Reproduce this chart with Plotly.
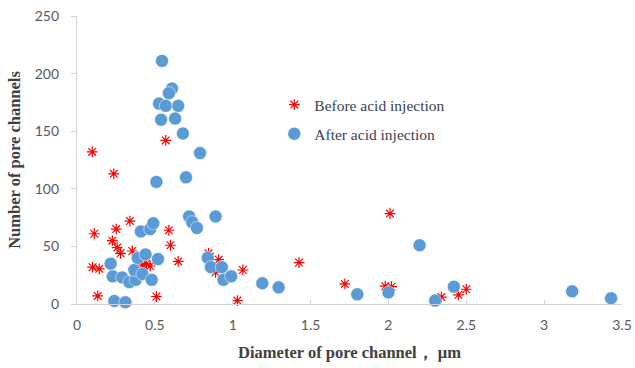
import plotly.graph_objects as go

before_x = [0.098, 0.236, 0.57, 0.111, 0.252, 0.34, 0.59, 0.227, 0.258, 0.28, 0.355, 0.60, 0.65,
            0.10, 0.143, 0.42, 0.445, 0.47, 0.133, 0.51, 0.32, 0.845, 0.91, 0.89, 1.065, 1.03,
            1.426, 1.72, 2.01, 1.98, 2.02, 2.34, 2.45, 2.50]
before_y = [132, 113, 142, 61, 65, 72, 64, 55, 49, 44, 46, 51, 37,
            32, 30.5, 34, 35, 33, 7, 6.5, 1.5, 44, 38.5, 27.5, 29.5, 3,
            36, 17.4, 78.5, 15.5, 15, 6, 8, 12.8]

after_x = [0.546, 0.61, 0.59, 0.527, 0.57, 0.65, 0.54, 0.63, 0.68, 0.79, 0.51, 0.70,
           0.72, 0.74, 0.77, 0.89, 0.216, 0.23, 0.29, 0.336, 0.377, 0.368, 0.39, 0.44,
           0.42, 0.41, 0.47, 0.49, 0.52, 0.48, 0.24, 0.31, 0.84, 0.86, 0.93, 0.94, 0.99,
           1.19, 1.295, 1.80, 2.0, 2.20, 2.30, 2.42, 3.18, 3.43]
after_y = [211, 187, 183, 174, 172, 172, 160, 161, 148, 131, 106, 110,
           76, 71, 66, 76, 35, 24, 23, 19, 21, 29.5, 40, 43,
           26, 63, 65, 70, 39, 21, 2.6, 1.5, 40, 32, 32, 21, 24,
           18, 14.5, 8.4, 10, 51, 3, 15, 11, 5]

x_ticks = [0, 0.5, 1, 1.5, 2, 2.5, 3, 3.5]
x_tick_text = ["0", "0.5", "1", "1.5", "2", "2.5", "3", "3.5"]
y_ticks = [0, 50, 100, 150, 200, 250]

fig = go.Figure()
fig.add_trace(go.Scatter(
    x=before_x, y=before_y, mode="markers", name="Before acid injection",
    legendgroup="a", cliponaxis=False,
    marker=dict(symbol="asterisk-open", size=9, color="#FF0000",
                line=dict(color="#FF0000", width=1.2)),
))
fig.add_trace(go.Scatter(
    x=after_x, y=after_y, mode="markers", name="After acid injection",
    legendgroup="b", cliponaxis=False,
    marker=dict(symbol="circle", size=13, color="#5B9BD5",
                line=dict(color="#FFFFFF", width=0.5)),
))

tick_font = dict(family="Lato, Liberation Sans, sans-serif", size=14, color="#595959")
title_font = dict(family="Liberation Serif, Times New Roman, serif", size=16.5, color="#404040")

fig.update_layout(
    width=635, height=368,
    margin=dict(l=77, r=13, t=16, b=64, autoexpand=False),
    paper_bgcolor="white", plot_bgcolor="white",
    showlegend=True,
    legend=dict(x=0.362, y=0.75, xanchor="left", yanchor="top",
                font=dict(family="Liberation Serif, Times New Roman, serif", size=15.5, color="#3A4352"),
                bgcolor="rgba(0,0,0,0)", tracegroupgap=6, itemwidth=30),
    xaxis=dict(range=[0, 3.5], tickvals=x_ticks, ticktext=x_tick_text, automargin=False,
               showgrid=False, zeroline=False, showline=True, linecolor="#D0D4DA", linewidth=1.3,
               ticks="inside", ticklen=4, tickcolor="#D0D4DA", tickfont=tick_font,
               ticklabelstandoff=8, ticklabeloverflow="allow",
               title=dict(text="<b>Diameter of pore channel， μm</b>", font=title_font, standoff=14)),
    yaxis=dict(range=[0, 250], tickvals=y_ticks, automargin=False,
               showgrid=False, zeroline=False, showline=True, linecolor="#D0D4DA", linewidth=1.3,
               ticks="outside", ticklen=5, tickcolor="#D0D4DA", tickfont=tick_font,
               ticklabelstandoff=9, ticklabeloverflow="allow",
               title=dict(text="<b>Number of pore channels</b>", font=title_font, standoff=9)),
)

fig.write_html("out.html", config={"displayModeBar": False},
               post_script="document.body.style.margin='0px';")
